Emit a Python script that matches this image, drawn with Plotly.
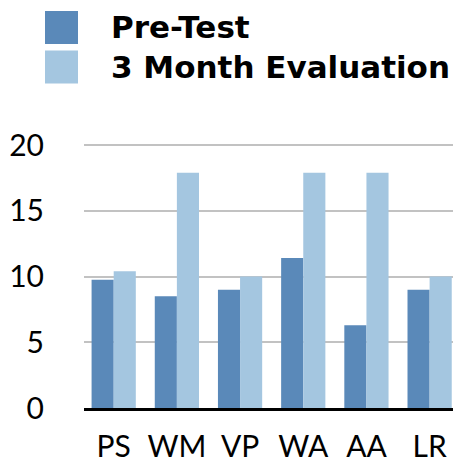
import plotly.graph_objects as go

categories = ["PS", "WM", "VP", "WA", "AA", "LR"]
pre_test = [9.75, 8.5, 9.0, 11.4, 6.3, 9.0]
three_month = [10.4, 17.9, 10.0, 17.9, 17.9, 10.0]
series_names = ["Pre-Test", "3 Month Evaluation"]
colors = ["#5a89b9", "#a4c6e0"]
y_ticks = [0, 5, 10, 15, 20]

FONT = "Lato"
LEG_FONT = "DejaVu Sans"

W, H = 453, 463
L, R, T, B = 84, 0, 144, 55
PW, PH = W - L - R, H - T - B

fig = go.Figure()
fig.add_trace(go.Bar(x=categories, y=pre_test, name=series_names[0],
                     marker=dict(color=colors[0], line=dict(width=0))))
fig.add_trace(go.Bar(x=categories, y=three_month, name=series_names[1],
                     marker=dict(color=colors[1], line=dict(width=0))))

fig.update_layout(
    width=W, height=H,
    margin=dict(l=L, r=R, t=T, b=B, autoexpand=False),
    barmode="group", bargap=0.3, bargroupgap=0,
    plot_bgcolor="white", paper_bgcolor="white",
    showlegend=False,
    font=dict(family=FONT, color="black"),
)
fig.update_xaxes(
    range=[-0.47, 5.37],
    showline=True, linecolor="black", linewidth=3,
    showgrid=False, ticks="", ticklabelstandoff=10,
    tickfont=dict(size=30, family=FONT, color="black"),
    automargin=False,
)
fig.update_yaxes(
    range=[0, 20.08], tickvals=y_ticks,
    showgrid=True, gridcolor="#c2c2c2", gridwidth=2,
    zeroline=False, showline=False, ticks="",
    ticklabelstandoff=39,
    tickfont=dict(size=30, family=FONT, color="black"),
    automargin=False,
)

# legend drawn manually (large swatches)
legend_y = [27.5, 67]
for name, col, yc in zip(series_names, colors, legend_y):
    fig.add_shape(type="rect", xref="paper", yref="paper",
                  x0=(45 - L) / PW, x1=(78 - L) / PW,
                  y0=(H - B - (yc + 16.5)) / PH,
                  y1=(H - B - (yc - 16.5)) / PH,
                  fillcolor=col, line=dict(width=0))
    fig.add_annotation(xref="paper", yref="paper",
                       x=(109 - L) / PW, y=(H - B - yc) / PH,
                       xanchor="left", yanchor="middle", showarrow=False,
                       text="<b>" + name + "</b>",
                       font=dict(size=31, family=LEG_FONT, color="black"))

fig.write_html("out.html",
               config={"displayModeBar": False},
               post_script="document.body.style.margin='0';document.body.style.overflow='hidden';")
